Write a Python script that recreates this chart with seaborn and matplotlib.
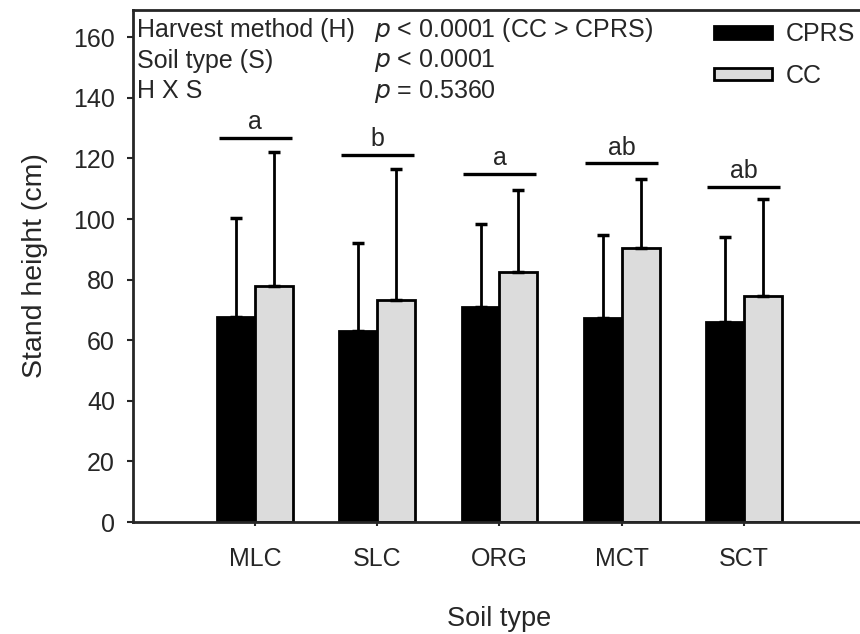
import numpy as np
import pandas as pd
import seaborn as sns
from matplotlib import pyplot as plt

# Values
soil_types = ["MLC", "SLC", "ORG", "MCT", "SCT"]
harvest = ["CPRS", "CC"]
cprs_mean = [67.7, 63.0, 71.1, 67.2, 65.9]
cc_mean = [77.9, 73.3, 82.4, 90.5, 74.7]
cprs_sd = [32.8, 29.2, 27.2, 27.5, 28.3]
cc_sd = [44.1, 43.1, 27.2, 22.7, 31.9]
letters = ["a", "b", "a", "ab", "ab"]
letter_heights = [126.8, 121.1, 114.9, 118.4, 110.7]

df = pd.DataFrame({
    "soil": soil_types * 2,
    "harvest": ["CPRS"] * 5 + ["CC"] * 5,
    "height": cprs_mean + cc_mean,
    "sd": cprs_sd + cc_sd,
})

sns.set_style("ticks")
plt.rcParams["font.family"] = ["Liberation Sans", "DejaVu Sans"]

fig = plt.figure(figsize=(8.6, 6.34), dpi=100)
ax = fig.add_axes([133 / 860, 112 / 634, 733 / 860, 512 / 634])

sns.barplot(data=df, x="soil", y="height", hue="harvest", hue_order=harvest,
            order=soil_types, palette=["black", "#dcdcdc"], width=0.62,
            edgecolor="black", linewidth=2, errorbar=None, ax=ax)

# one-sided error bars at the centre of each bar
for patch_group, hue in zip([ax.patches[:5], ax.patches[5:10]], harvest):
    sub = df[df["harvest"] == hue].set_index("soil").loc[soil_types]
    xs = [p.get_x() + p.get_width() / 2 for p in patch_group]
    ax.errorbar(xs, sub["height"], yerr=[np.zeros(5), sub["sd"]], fmt="none",
                ecolor="black", elinewidth=2, capsize=4.5, capthick=2.5, zorder=1)

# significance letters over each soil type
for i, (lab, h) in enumerate(zip(letters, letter_heights)):
    ax.plot([i - 0.3, i + 0.3], [h, h], color="black", lw=2.4, solid_capstyle="butt")
    ax.text(i, h + 1.2, lab, ha="center", va="bottom", fontsize=18)

ax.set_xlim(-1, 5)
ax.set_ylim(0, 169)
ax.set_yticks(range(0, 161, 20))
ax.tick_params(axis="y", labelsize=18, width=1.5, length=4, pad=9)
ax.tick_params(axis="x", labelsize=18, width=1.5, length=3, pad=15)
for s in ["left", "bottom", "top"]:
    ax.spines[s].set_linewidth(2)
ax.spines["right"].set_visible(False)

ax.set_xlabel("Soil type", fontsize=19.5, labelpad=25)
ax.set_ylabel("Stand height (cm)", fontsize=20.5, labelpad=18)

# ANOVA summary
rows = [("Harvest method (H)", "< 0.0001 (CC > CPRS)"),
        ("Soil type (S)", "< 0.0001"),
        ("H X S", "= 0.5360")]
for k, (name, pval) in enumerate(rows):
    y = 0.961 - k * 0.06
    ax.text(0.006, y, name, transform=ax.transAxes, fontsize=18, va="center")
    ax.text(0.329, y, "$p$ " + pval, transform=ax.transAxes, fontsize=18, va="center")

handles, _ = ax.get_legend_handles_labels()
ax.legend(handles, harvest, loc="upper left", bbox_to_anchor=(0.762, 1.02),
          frameon=False, fontsize=18, handlelength=2.3, handleheight=0.4,
          labelspacing=0.7, handletextpad=0.55)

fig.savefig("out.png", dpi=100)
